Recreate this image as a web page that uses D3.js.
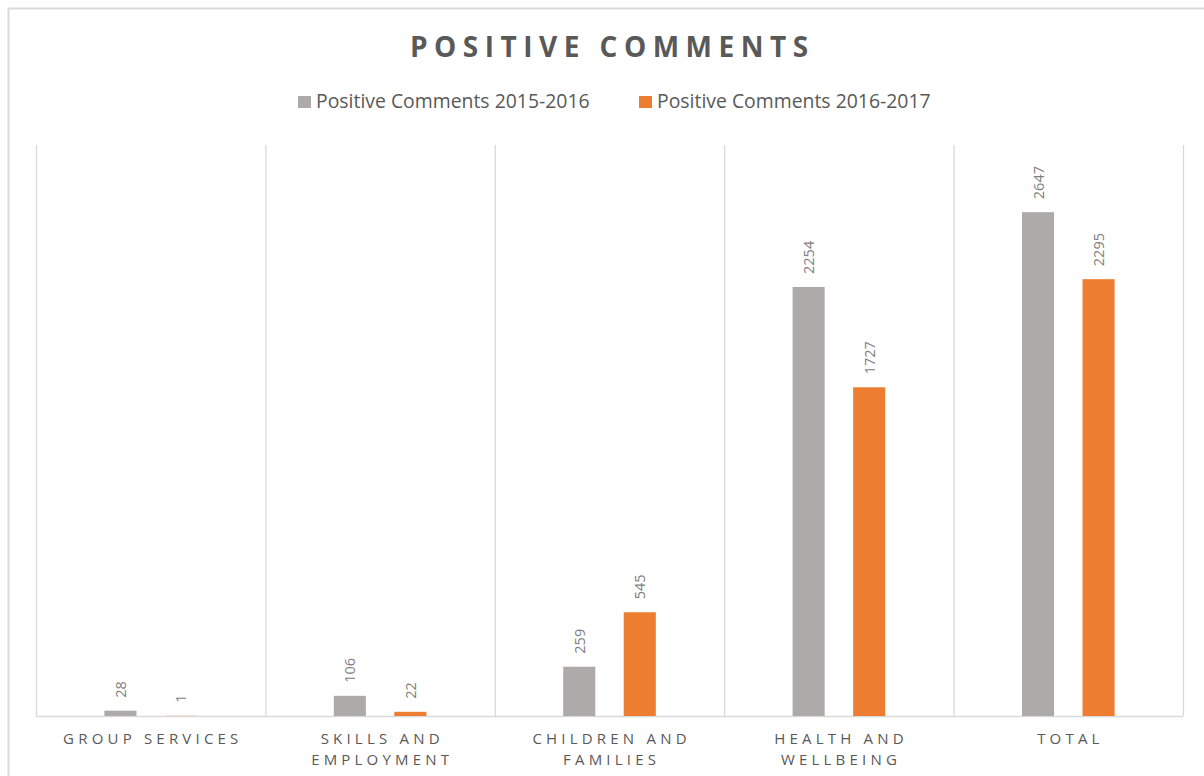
<!DOCTYPE html>
<html><head><meta charset="utf-8">
<script src="https://cdn.jsdelivr.net/npm/d3@7"></script>
<style>body{margin:0;background:#fff}svg{display:block}</style>
</head><body><svg id="c" width="1204" height="776"></svg>
<script>
const categories = [["GROUP SERVICES"],["SKILLS AND","EMPLOYMENT"],["CHILDREN AND","FAMILIES"],["HEALTH AND","WELLBEING"],["TOTAL"]];
const seriesNames = ["Positive Comments 2015-2016","Positive Comments 2016-2017"];
const values2015 = [28,106,259,2254,2647];
const values2016 = [1,22,545,1727,2295];
const colors = ["#AEAAA9","#ED7D31"];

(function(){
const svg = d3.select("#c");
svg.append("rect").attr("x",8.5).attr("y",8.5).attr("width",1210).attr("height",800)
  .attr("fill","#fff").attr("stroke","#d9d9d9").attr("stroke-width",2);

const pL=36,pR=1183,pT=145,pB=716;
const x = d3.scaleBand().domain(d3.range(categories.length)).range([pL,pR]).padding(0);
const xi = d3.scaleBand().domain([0,1]).range([0,x.bandwidth()]).paddingInner(0.47).paddingOuter(1.13);
const y = d3.scaleLinear().domain([0,3000]).range([pB,pT]);

const bounds = d3.range(categories.length+1).map(i=> i<categories.length ? x(i) : pR);
svg.selectAll(".g").data(bounds).join("line")
  .attr("x1",d=>d+0.5).attr("x2",d=>d+0.5).attr("y1",pT).attr("y2",pB)
  .attr("stroke","#d9d9d9").attr("stroke-width",1.3);
svg.append("line").attr("x1",pL).attr("x2",pR).attr("y1",pB+0.5).attr("y2",pB+0.5)
  .attr("stroke","#d9d9d9").attr("stroke-width",1.5);

const series=[values2015,values2016];
series.forEach((vals,s)=>{
  const g=svg.append("g");
  g.selectAll("rect").data(vals).join("rect")
    .attr("x",(d,i)=>x(i)+xi(s)).attr("width",xi.bandwidth())
    .attr("y",d=>y(d)).attr("height",d=>pB-y(d)).attr("fill",colors[s]);
  g.selectAll("text").data(vals).join("text")
    .attr("transform",(d,i)=>`translate(${x(i)+xi(s)+xi.bandwidth()/2+5.5},${y(d)-13}) rotate(-90)`)
    .attr("font-family","Open Sans").attr("font-size",14.5).attr("fill","#808080")
    .text(d=>d);
});

const ls=4.2;
categories.forEach((lines,i)=>{
  const t=svg.append("text").attr("text-anchor","middle")
    .attr("font-family","Open Sans").attr("font-size",15).attr("letter-spacing",ls+"px").attr("fill","#595959");
  lines.forEach((l,j)=>t.append("tspan").attr("x",x(i)+x.bandwidth()/2+ls/2).attr("y",744+j*21).text(l));
});

svg.append("text").attr("x",609+3.25).attr("y",57).attr("text-anchor","middle")
  .attr("font-family","Open Sans").attr("font-weight","bold").attr("font-size",28)
  .attr("letter-spacing","6.5px").attr("fill","#595959").text("POSITIVE COMMENTS");

const legX=[298,639];
seriesNames.forEach((n,i)=>{
  svg.append("rect").attr("x",legX[i]).attr("y",96).attr("width",13).attr("height",12).attr("fill",colors[i]);
  svg.append("text").attr("x",legX[i]+18).attr("y",108).attr("font-family","Open Sans")
    .attr("font-size",19.4).attr("fill","#595959").text(n);
});
})();
</script></body></html>
